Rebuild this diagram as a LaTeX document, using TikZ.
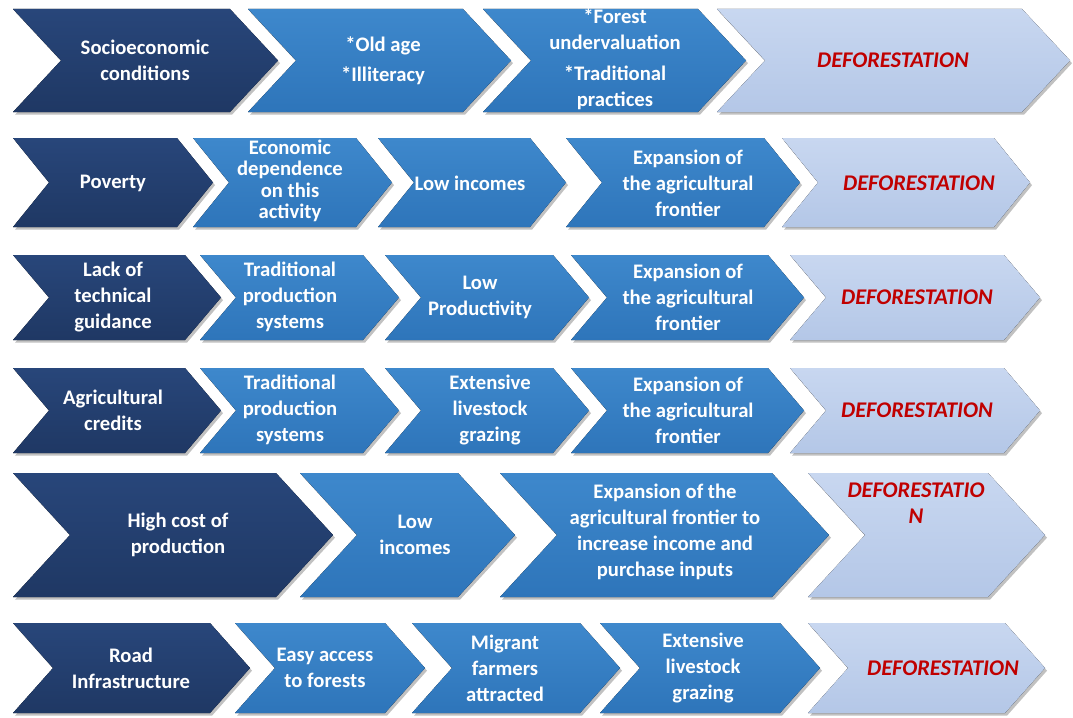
\documentclass[tikz,border=0pt]{standalone}
\usepackage{fontspec}
\setmainfont{Carlito}
\usetikzlibrary{shadows}
\definecolor{navy}{RGB}{31,56,100}
\definecolor{navytop}{RGB}{40,70,122}
\definecolor{midblue}{RGB}{46,117,186}
\definecolor{midtop}{RGB}{62,136,204}
\definecolor{paleblue}{RGB}{180,199,231}
\definecolor{paletop}{RGB}{200,215,240}
\definecolor{defred}{RGB}{192,0,0}
\tikzset{
  chshadow/.style={drop shadow={shadow xshift=1.5pt,shadow yshift=-2pt,opacity=0.35,fill=black!70}},
  dark/.style={chshadow,top color=navytop,bottom color=navy},
  mid/.style={chshadow,top color=midtop,bottom color=midblue},
  light/.style={chshadow,top color=paletop,bottom color=paleblue},
  wtext/.style={text=white,align=center,font=\bfseries\fontsize{15.5}{19.5}\selectfont,inner sep=0pt},
  rtext/.style={text=defred,align=center,font=\bfseries\itshape\fontsize{16.8}{19.5}\selectfont,inner sep=0pt}
}
% chevron: left x, top-right x, top y, bottom y, point depth, style
\newcommand\chv[6]{%
  \fill[#6] (#1,#3) -- (#2,#3) -- ({#2+#5},{(#3+#4)/2}) -- (#2,#4) -- (#1,#4)
    -- ({#1+#5},{(#3+#4)/2}) -- cycle;}
\begin{document}
\begin{tikzpicture}[x=0.75pt,y=-0.75pt]
\useasboundingbox (0,0) rectangle (1073,717);
% row 1
\chv{13}{230}{9}{112}{48}{dark}
\chv{248}{463}{9}{112}{48}{mid}
\chv{483}{698}{9}{112}{48}{mid}
\chv{717}{1022}{9}{112}{48}{light}
\node[wtext] (a1) at (145,60) {Socioeconomic\\conditions};
\node[wtext] (a2) at (383,61) {*Old age\\[3pt]*Illiteracy};
\node[wtext] (a3) at (615,59) {*Forest\\undervaluation\\[4pt]*Traditional\\practices};
\node[rtext] (a4) at (893,60) {DEFORESTATION};
% row 2
\chv{13}{177}{138}{227}{36}{dark}
\chv{193}{356}{138}{227}{36}{mid}
\chv{378}{530}{138}{227}{36}{mid}
\chv{566}{764}{138}{227}{36}{mid}
\chv{782}{994}{138}{227}{36}{light}
\node[wtext] (b1) at (113,183) {Poverty};
\node[wtext,font=\bfseries\fontsize{15.5}{16}\selectfont] (b2) at (290,181) {Economic\\dependence\\on this\\activity};
\node[wtext] (b3) at (470,183) {Low incomes};
\node[wtext] (b4) at (688,183) {Expansion of\\the agricultural\\frontier};
\node[rtext] (b5) at (919,183) {DEFORESTATION};
% row 3
\chv{13}{185}{255}{340}{36}{dark}
\chv{200}{363}{255}{340}{36}{mid}
\chv{385}{553}{255}{340}{36}{mid}
\chv{571}{768}{255}{340}{36}{mid}
\chv{790}{1004}{255}{340}{36}{light}
\node[wtext] (c1) at (113,297) {Lack of\\technical\\guidance};
\node[wtext] (c2) at (290,297) {Traditional\\production\\systems};
\node[wtext] (c3) at (480,297) {Low\\Productivity};
\node[wtext] (c4) at (688,297) {Expansion of\\the agricultural\\frontier};
\node[rtext] (c5) at (917,297) {DEFORESTATION};
% row 4
\chv{13}{185}{368}{453}{36}{dark}
\chv{200}{363}{368}{453}{36}{mid}
\chv{385}{553}{368}{453}{36}{mid}
\chv{571}{768}{368}{453}{36}{mid}
\chv{790}{1004}{368}{453}{36}{light}
\node[wtext] (d1) at (113,410) {Agricultural\\credits};
\node[wtext] (d2) at (290,410) {Traditional\\production\\systems};
\node[wtext] (d3) at (490,410) {Extensive\\livestock\\grazing};
\node[wtext] (d4) at (688,410) {Expansion of\\the agricultural\\frontier};
\node[rtext] (d5) at (917,410) {DEFORESTATION};
% row 5
\chv{13}{276}{473}{597}{57}{dark}
\chv{300}{458}{473}{597}{57}{mid}
\chv{500}{772}{473}{597}{57}{mid}
\chv{808}{988}{473}{597}{57}{light}
\node[wtext] (e1) at (178,535) {High cost of\\production};
\node[wtext] (e2) at (415,535) {Low\\incomes};
\node[wtext] (e3) at (665,532) {Expansion of the\\agricultural frontier to\\increase income and\\purchase inputs};
\node[rtext] (e4) at (916,503) {DEFORESTATIO\\N};
% row 6
\chv{13}{210}{623}{713}{40}{dark}
\chv{235}{385}{623}{713}{40}{mid}
\chv{412}{580}{623}{713}{40}{mid}
\chv{600}{780}{623}{713}{40}{mid}
\chv{808}{1005}{623}{713}{40}{light}
\node[wtext] (f1) at (131,668) {Road\\Infrastructure};
\node[wtext] (f2) at (325,668) {Easy access\\to forests};
\node[wtext] (f3) at (505,668) {Migrant\\farmers\\attracted};
\node[wtext] (f4) at (703,668) {Extensive\\livestock\\grazing};
\node[rtext] (f5) at (943,668) {DEFORESTATION};
\end{tikzpicture}
\end{document}
